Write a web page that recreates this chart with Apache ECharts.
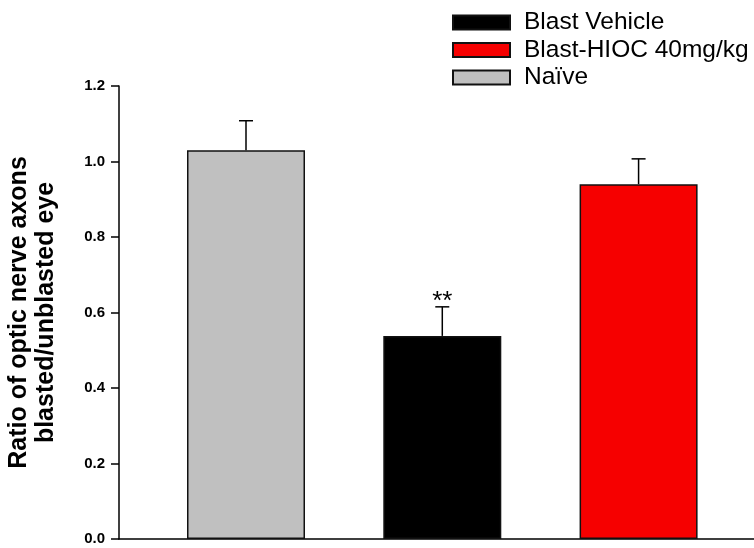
<!DOCTYPE html>
<html>
<head>
<meta charset="utf-8">
<script src="https://cdn.jsdelivr.net/npm/echarts@6/dist/echarts.min.js"></script>
<style>
html,body{margin:0;padding:0;background:#fff;}
#chart{width:754px;height:548px;}
</style>
</head>
<body>
<div id="chart"></div>
<script>
// ---- data ----
var categories = ['Naïve', 'Blast Vehicle', 'Blast-HIOC 40mg/kg'];
var means = [1.03, 0.538, 0.94];
var sems = [0.078, 0.077, 0.067];
var annotations = ['', '**', ''];
var legendOrder = ['Blast Vehicle', 'Blast-HIOC 40mg/kg', 'Naïve'];
var yMin = 0, yMax = 1.2, yStep = 0.2;
var yTitle = 'Ratio of optic nerve axons\nblasted/unblasted eye';

// ---- style ----
var fillColors = ['#c0c0c0', '#000000', '#f60000'];
var FONT = "Arial, 'Liberation Sans', sans-serif";

var chart = echarts.init(document.getElementById('chart'), null, {renderer: 'canvas'});

var barSeries = categories.map(function (name, i) {
  return {
    name: name,
    type: 'bar',
    barWidth: 118,
    barGap: '-100%',
    data: [[i + 1, means[i]]],
    itemStyle: {color: fillColors[i], borderColor: '#111', borderWidth: 1.5},
    z: 2
  };
});

var errData = categories.map(function (c, i) { return [i + 1, means[i], sems[i]]; });

var errSeries = {
  type: 'custom',
  name: 'err',
  data: errData,
  encode: {x: 0, y: 1},
  z: 5,
  renderItem: function (params, api) {
    var x = api.value(0), m = api.value(1), e = api.value(2);
    var base = api.coord([x, m]);
    var top = api.coord([x, m + e]);
    var half = 7;
    var st = {stroke: '#000', lineWidth: 1.5};
    var children = [
      {type: 'line', shape: {x1: base[0], y1: base[1], x2: top[0], y2: top[1]}, style: st},
      {type: 'line', shape: {x1: top[0] - half, y1: top[1], x2: top[0] + half, y2: top[1]}, style: st}
    ];
    var a = annotations[params.dataIndex];
    if (a) {
      children.push({
        type: 'text',
        x: top[0], y: top[1] - 5,
        style: {text: a, fill: '#000', font: '26px ' + FONT, textAlign: 'center', textVerticalAlign: 'middle'}
      });
    }
    return {type: 'group', children: children};
  }
};

chart.setOption({
  animation: false,
  backgroundColor: '#fff',
  grid: {left: 119, right: 0, top: 86, bottom: 9, containLabel: false, outerBoundsMode: 'none'},
  legend: {
    data: legendOrder,
    orient: 'vertical',
    left: 452,
    top: 10,
    padding: 0,
    icon: 'rect',
    itemWidth: 57,
    itemHeight: 14,
    itemGap: 2.5,
    textStyle: {fontFamily: FONT, fontSize: 24.5, color: '#000', padding: [0, 0, 0, 9]}
  },
  xAxis: {
    type: 'value',
    min: 0.353,
    max: 3.588,
    axisLine: {show: true, lineStyle: {color: '#000', width: 1.5}},
    axisTick: {show: false},
    axisLabel: {show: false},
    splitLine: {show: false}
  },
  yAxis: {
    type: 'value',
    min: yMin,
    max: yMax,
    interval: yStep,
    name: yTitle,
    nameLocation: 'middle',
    nameGap: 59,
    nameTextStyle: {fontFamily: FONT, fontSize: 25, fontWeight: 'bold', color: '#000', lineHeight: 27, align: 'center'},
    axisLine: {show: true, lineStyle: {color: '#000', width: 1.5}},
    axisTick: {show: true, length: 8, lineStyle: {color: '#000', width: 1.5}},
    axisLabel: {
      fontFamily: FONT, fontSize: 15, fontWeight: 'bold', color: '#000', margin: 14,
      formatter: function (v) { return v.toFixed(1); }
    },
    splitLine: {show: false}
  },
  series: barSeries.concat([errSeries])
});
</script>
</body>
</html>
